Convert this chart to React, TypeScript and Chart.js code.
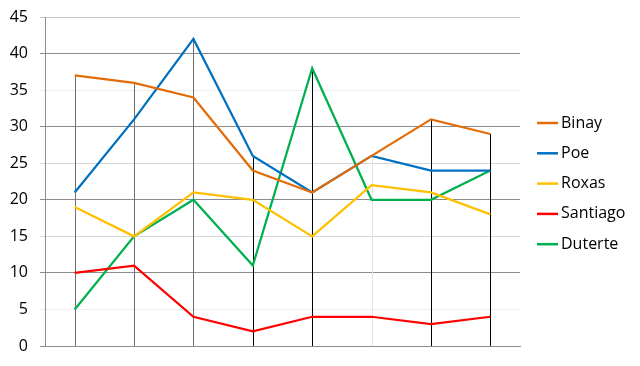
import React, { useEffect, useRef } from "react";
import { Chart, registerables } from "chart.js";

Chart.register(...registerables);

const categories = ["1", "2", "3", "4", "5", "6", "7", "8"];
const binay = [37, 36, 34, 24, 21, 26, 31, 29];
const poe = [21, 31, 42, 26, 21, 26, 24, 24];
const roxas = [19, 15, 21, 20, 15, 22, 21, 18];
const santiago = [10, 11, 4, 2, 4, 4, 3, 4];
const duterte = [5, 15, 20, 11, 38, 20, 20, 24];
const seriesNames = ["Binay", "Poe", "Roxas", "Santiago", "Duterte"];
const seriesColors = ["#e36c0a", "#0070c0", "#ffc000", "#ff0000", "#00b050"];
const dropLineColors = ["#707070", "#707070", "#707070", "#000000", "#000000", "#e4e4e4", "#000000", "#000000"];
const yTicks = [0, 5, 10, 15, 20, 25, 30, 35, 40, 45];
const gridColors = ["#8c8c8c", "#efefef", "#8c8c8c", "#d4d4d4", "#8c8c8c", "#d4d4d4", "#8c8c8c", "#efefef", "#8c8c8c", "#c8c8c8"];

const FONT = "'Open Sans', 'Noto Sans', sans-serif";

const dropLinesPlugin = {
  id: "dropLines",
  beforeDatasetsDraw(chart: any) {
    const { ctx } = chart;
    const x = chart.scales.x;
    const y = chart.scales.y;
    ctx.save();
    ctx.lineWidth = 1;
    categories.forEach((_, i) => {
      let m = -Infinity;
      chart.data.datasets.forEach((ds: any) => {
        m = Math.max(m, ds.data[i]);
      });
      const px = Math.round(x.getPixelForValue(i)) + 0.5;
      ctx.strokeStyle = dropLineColors[i];
      ctx.beginPath();
      ctx.moveTo(px, y.getPixelForValue(0));
      ctx.lineTo(px, y.getPixelForValue(m));
      ctx.stroke();
    });
    ctx.restore();
  },
};

const legendPlugin = {
  id: "customLegend",
  afterDraw(chart: any) {
    const { ctx } = chart;
    ctx.save();
    ctx.font = `16px ${FONT}`;
    ctx.textBaseline = "middle";
    ctx.fillStyle = "#000";
    seriesNames.forEach((name, i) => {
      const cy = 123 + i * 30.3;
      ctx.strokeStyle = seriesColors[i];
      ctx.lineWidth = 2.5;
      ctx.beginPath();
      ctx.moveTo(537, cy);
      ctx.lineTo(558, cy);
      ctx.stroke();
      ctx.fillText(name, 561, cy);
    });
    ctx.restore();
  },
};

export default function App() {
  const ref = useRef<HTMLCanvasElement>(null);
  useEffect(() => {
    const seriesData = [binay, poe, roxas, santiago, duterte];
    const chart = new Chart(ref.current!, {
      type: "line",
      data: {
        labels: categories,
        datasets: seriesNames.map((n, i) => ({
          label: n,
          data: seriesData[i],
          borderColor: seriesColors[i],
          backgroundColor: seriesColors[i],
          borderWidth: 2.25,
          pointRadius: 0,
          tension: 0,
        })),
      },
      options: {
        animation: false,
        responsive: false,
        maintainAspectRatio: false,
        layout: { padding: { top: 17, right: 120, left: 0, bottom: 0 } },
        plugins: { legend: { display: false }, tooltip: { enabled: false } },
        scales: {
          x: {
            offset: true,
            grid: { display: false },
            border: { display: true, color: "#8c8c8c" },
            ticks: { display: false },
            afterFit: (axis: any) => {
              axis.height = 20;
            },
          },
          y: {
            min: 0,
            max: 45,
            afterBuildTicks: (axis: any) => {
              axis.ticks = yTicks.map((v) => ({ value: v }));
            },
            grid: {
              color: (c: any) => gridColors[yTicks.indexOf(c.tick?.value)] ?? "#ccc",
              tickLength: 5,
              lineWidth: 1,
            },
            border: { display: true, color: "#8c8c8c" },
            ticks: {
              padding: 12,
              color: "#000",
              font: { family: FONT, size: 16 },
            },
            afterFit: (axis: any) => {
              axis.width = 45;
              axis.paddingTop = 0;
              axis.paddingBottom = 0;
            },
          },
        },
      },
      plugins: [dropLinesPlugin, legendPlugin],
    });
    return () => chart.destroy();
  }, []);
  return (
    <div style={{ position: "fixed", left: 0, top: 0, width: 640, height: 366, background: "#fff" }}>
      <canvas ref={ref} width={640} height={366} />
    </div>
  );
}
